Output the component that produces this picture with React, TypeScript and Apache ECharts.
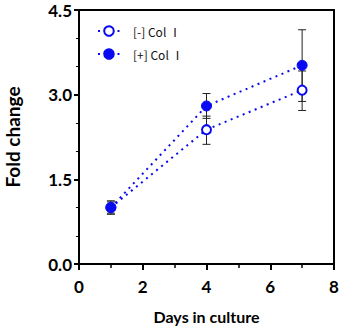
import React, { useEffect, useRef } from "react";
import * as echarts from "echarts";

const days = [1, 4, 7];
const minusMean = [1.0, 2.38, 3.08];
const minusLow = [0.9, 2.12, 2.72];
const minusHigh = [1.1, 2.62, 3.42];
const plusMean = [1.0, 2.8, 3.52];
const plusLow = [0.88, 2.58, 2.88];
const plusHigh = [1.12, 3.02, 4.15];
const xTicks = [0, 2, 4, 6, 8];
const yTicks = [0, 1.5, 3.0, 4.5];
const legendNames = ["[-] Col Ⅰ", "[+] Col Ⅰ"];

const BLUE = "#0a0af0";
const FONT = "Lato";

export default function App() {
  const ref = useRef<HTMLDivElement>(null);
  useEffect(() => {
    const chart = echarts.init(ref.current!, null, { renderer: "svg" });
    const errData = (lo: number[], hi: number[]) => days.map((d, i) => [d, lo[i], hi[i]]);
    const errSeries = (name: string, lo: number[], hi: number[]) => ({
      type: "custom",
      name: name + "_err",
      z: 1,
      data: errData(lo, hi),
      renderItem: (params: any, api: any) => {
        const x = api.value(0);
        const p1 = api.coord([x, api.value(1)]);
        const p2 = api.coord([x, api.value(2)]);
        const w = 4;
        const st = { stroke: "#222", lineWidth: 1 };
        return {
          type: "group",
          children: [
            { type: "line", shape: { x1: p1[0], y1: p1[1], x2: p2[0], y2: p2[1] }, style: st },
            { type: "line", shape: { x1: p1[0] - w, y1: p1[1], x2: p1[0] + w, y2: p1[1] }, style: st },
            { type: "line", shape: { x1: p2[0] - w, y1: p2[1], x2: p2[0] + w, y2: p2[1] }, style: st },
          ],
        };
      },
    });
    chart.setOption({
      animation: false,
      grid: {
        left: 79,
        right: 7,
        top: 10,
        bottom: 65,
        show: true,
        borderColor: "#000",
        borderWidth: 2,
        outerBoundsMode: "none",
        containLabel: false,
      },
      legend: {
        left: 97,
        top: 25,
        padding: 0,
        orient: "vertical",
        itemGap: 11,
        itemWidth: 22,
        itemHeight: 12,
        data: legendNames,
        textStyle: {
          fontFamily: "'Noto Sans CJK SC'",
          fontSize: 12,
          color: "#111",
          padding: [0, 0, 0, 8],
        },
      },
      xAxis: {
        type: "value",
        min: 0,
        max: 8,
        interval: 2,
        axisLine: { show: true, lineStyle: { color: "#000", width: 2 } },
        axisTick: { show: true, length: 6, lineStyle: { color: "#000", width: 2 } },
        minorTick: { show: true, splitNumber: 2, length: 4, lineStyle: { color: "#000", width: 1.5 } },
        splitLine: { show: false },
        axisLabel: {
          fontFamily: FONT,
          fontWeight: "bold",
          fontSize: 17,
          color: "#000",
          margin: 14,
          formatter: (v: number) => (xTicks.includes(v) ? String(v) : ""),
        },
        name: "Days in culture",
        nameLocation: "middle",
        nameGap: 44,
        nameTextStyle: { fontFamily: FONT, fontWeight: "bold", fontSize: 16, color: "#000" },
      },
      yAxis: {
        type: "value",
        min: 0,
        max: 4.5,
        interval: 1.5,
        axisLine: { show: true, lineStyle: { color: "#000", width: 2 } },
        axisTick: { show: true, length: 5, lineStyle: { color: "#000", width: 2 } },
        minorTick: { show: true, splitNumber: 3, length: 3, lineStyle: { color: "#000", width: 1 } },
        splitLine: { show: false },
        axisLabel: {
          fontFamily: FONT,
          fontWeight: "bold",
          fontSize: 17,
          color: "#000",
          margin: 7,
          formatter: (v: number) => (yTicks.includes(v) ? v.toFixed(1) : ""),
        },
        name: "Fold change",
        nameLocation: "middle",
        nameGap: 57,
        nameTextStyle: { fontFamily: FONT, fontWeight: "bold", fontSize: 19, color: "#000" },
      },
      series: [
        errSeries("minus", minusLow, minusHigh),
        errSeries("plus", plusLow, plusHigh),
        {
          type: "line",
          name: legendNames[0],
          z: 3,
          data: days.map((d, i) => [d, minusMean[i]]),
          symbol: "circle",
          symbolSize: 9,
          lineStyle: { color: BLUE, width: 2, type: [2, 4.5] },
          itemStyle: { color: "#fff", borderColor: BLUE, borderWidth: 2 },
        },
        {
          type: "line",
          name: legendNames[1],
          z: 4,
          data: days.map((d, i) => [d, plusMean[i]]),
          symbol: "circle",
          symbolSize: 10,
          lineStyle: { color: BLUE, width: 2, type: [2, 4.5] },
          itemStyle: { color: BLUE, borderColor: BLUE, borderWidth: 1 },
        },
      ],
    });
    return () => chart.dispose();
  }, []);
  return (
    <div
      ref={ref}
      style={{ position: "fixed", left: 0, top: 0, width: 341, height: 329, background: "#fff" }}
    />
  );
}
